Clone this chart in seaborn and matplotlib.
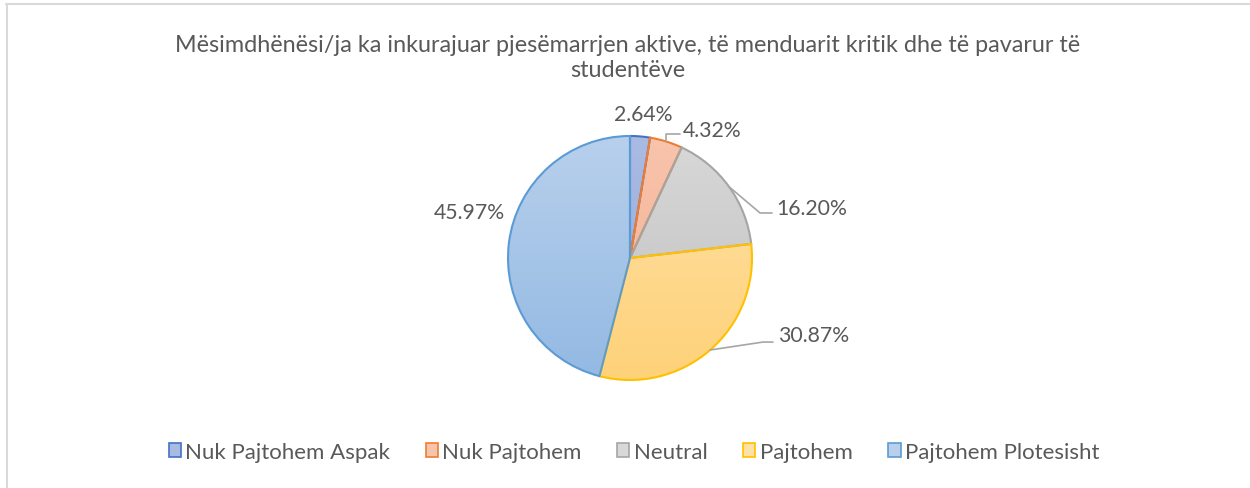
import numpy as np
import matplotlib
matplotlib.use("Agg")
import matplotlib.pyplot as plt
from matplotlib.patches import Patch
from matplotlib.colors import LinearSegmentedColormap
from matplotlib.lines import Line2D
import seaborn as sns

# ---- data ----
categories = ["Nuk Pajtohem Aspak", "Nuk Pajtohem", "Neutral", "Pajtohem", "Pajtohem Plotesisht"]
values = [2.64, 4.32, 16.20, 30.87, 45.97]
value_labels = ["2.64%", "4.32%", "16.20%", "30.87%", "45.97%"]
title = "Mësimdhënësi/ja ka inkurajuar pjesëmarrjen aktive, të menduarit kritik dhe të pavarur të\nstudentëve"

# ---- style ----
edge_colors = ["#4472C4", "#ED7D31", "#A5A5A5", "#FFC000", "#5B9BD5"]
fill_top = ["#aabbe3", "#f8c4ad", "#d8d8d8", "#ffe0a6", "#b8d0ec"]
fill_bot = ["#92a8da", "#f4ad8c", "#bfbfbf", "#fed279", "#93b9e3"]
text_color = "#595959"

sns.set_theme(style="white")
plt.rcParams["font.family"] = ["Lato", "DejaVu Sans"]

W, H = 1250, 489
fig = plt.figure(figsize=(W / 100, H / 100), dpi=100)
fig.patch.set_facecolor("white")

# chart frame (top and left edges visible)
fig.add_artist(Line2D([6 / W, 1.0], [1 - 5 / H, 1 - 5 / H], color="#d9d9d9", lw=1.5, transform=fig.transFigure))
fig.add_artist(Line2D([6.5 / W, 6.5 / W], [0, 1 - 5 / H], color="#d9d9d9", lw=1.5, transform=fig.transFigure))

cx, cy, R = 630, 259, 122
ax = fig.add_axes([(cx - R) / W, (H - cy - R) / H, 2 * R / W, 2 * R / H])
wedges, _ = ax.pie(values, startangle=90, counterclock=False, radius=1,
                   wedgeprops=dict(linewidth=1.5))
grad = np.linspace(0, 1, 256).reshape(-1, 1)
for w, ec, t, b in zip(wedges, edge_colors, fill_top, fill_bot):
    w.set_facecolor("none")
    w.set_edgecolor(ec)
    w.set_zorder(3)
    cmap = LinearSegmentedColormap.from_list("g", [t, b])
    im = ax.imshow(grad, cmap=cmap, extent=(-1, 1, -1, 1), origin="upper",
                   aspect="auto", zorder=2)
    im.set_clip_path(w)
ax.set_xlim(-1, 1)
ax.set_ylim(-1, 1)
ax.set_aspect("equal")
ax.axis("off")

# data labels (layout positions in pie units)
label_pos = [(0.107, 1.18, "center"), (0.434, 1.05, "left"), (1.197, 0.41, "left"),
             (1.213, -0.631, "left"), (-1.025, 0.377, "right")]
for lab, (x, y, ha) in zip(value_labels, label_pos):
    ax.text(x, y, lab, ha=ha, va="center", fontsize=15.3, color=text_color, clip_on=False)

# leader lines
frac = np.cumsum([0] + values) / sum(values)
mids = [np.deg2rad(90 - 360 * (frac[i] + frac[i + 1]) / 2) for i in range(len(values))]
leaders = {1: [(None, 1.016), (0.41, 1.016)],
           2: [(1.066, 0.369), (1.164, 0.369)],
           3: [(1.09, -0.689), (1.172, -0.689)]}
for i, pts in leaders.items():
    x0, y0 = np.cos(mids[i]), np.sin(mids[i])
    xs, ys = [x0], [y0]
    for (px, py) in pts:
        xs.append(x0 if px is None else px)
        ys.append(py)
    ax.plot(xs, ys, color="#a6a6a6", lw=1.2, clip_on=False, zorder=4)

fig.text(628 / W, 1 - 58 / H, title, ha="center", va="center", fontsize=16.8,
         color=text_color, linespacing=1.22)

handles = [Patch(facecolor=t, edgecolor=e, linewidth=1.2) for t, e in zip(fill_top, edge_colors)]
leg = fig.legend(handles, categories, loc="center", bbox_to_anchor=(634 / W, 1 - 453 / H),
                 ncol=5, frameon=False, fontsize=16, handlelength=0.55, handleheight=0.55,
                 handletextpad=0.2, columnspacing=1.6, labelcolor=text_color)

fig.savefig("out.png", dpi=100, facecolor="white")
